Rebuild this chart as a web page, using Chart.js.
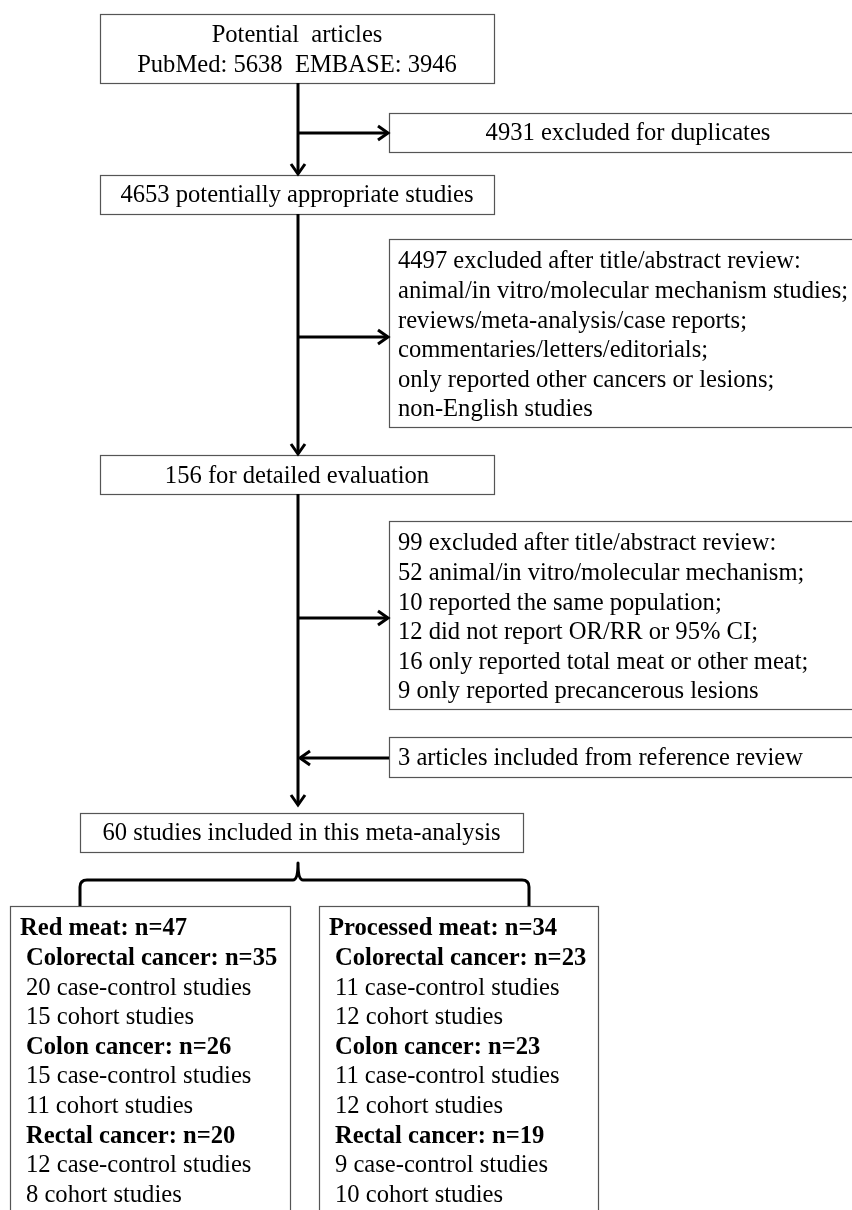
<!DOCTYPE html>
<html>
<head>
<meta charset="utf-8">
<script src="https://cdn.jsdelivr.net/npm/chart.js@4.4.1/dist/chart.umd.min.js"></script>
<style>
html,body{margin:0;padding:0;background:#fff;}
#wrap{width:852px;height:1210px;position:relative;}
</style>
</head>
<body>
<div id="wrap"><canvas id="c" width="852" height="1210"></canvas></div>
<script>
// ---- Data (texts and counts) ----
const sourceLines = ["Potential  articles", "PubMed: 5638  EMBASE: 3946"];
const duplicateLines = ["4931 excluded for duplicates"];
const appropriateLines = ["4653 potentially appropriate studies"];
const titleExclLines = [
  "4497 excluded after title/abstract review:",
  "animal/in vitro/molecular mechanism studies;",
  "reviews/meta-analysis/case reports;",
  "commentaries/letters/editorials;",
  "only reported other cancers or lesions;",
  "non-English studies"
];
const detailedLines = ["156 for detailed evaluation"];
const detailExclLines = [
  "99 excluded after title/abstract review:",
  "52 animal/in vitro/molecular mechanism;",
  "10 reported the same population;",
  "12 did not report OR/RR or 95% CI;",
  "16 only reported total meat or other meat;",
  "9 only reported precancerous lesions"
];
const referenceLines = ["3 articles included from reference review"];
const includedLines = ["60 studies included in this meta-analysis"];
const redMeatLines = [
  "Red meat: n=47",
  "Colorectal cancer: n=35",
  "20 case-control studies",
  "15 cohort studies",
  "Colon cancer: n=26",
  "15 case-control studies",
  "11 cohort studies",
  "Rectal cancer: n=20",
  "12 case-control studies",
  "8 cohort studies"
];
const processedLines = [
  "Processed meat: n=34",
  "Colorectal cancer: n=23",
  "11 case-control studies",
  "12 cohort studies",
  "Colon cancer: n=23",
  "11 case-control studies",
  "12 cohort studies",
  "Rectal cancer: n=19",
  "9 case-control studies",
  "10 cohort studies"
];
const boldRows = [0, 1, 4, 7];

// ---- Layout (page units on hidden linear scales) ----
const FONT = "'Liberation Serif', 'Times New Roman', serif";
const FS = 24.6;
const LH = 29.6;
const boxes = [
  {lines: sourceLines, x0: 100, y0: 14, x1: 494, y1: 83, align: 'center', ty: 36},
  {lines: duplicateLines, x0: 389, y0: 113, x1: 867, y1: 152, align: 'center', ty: 134},
  {lines: appropriateLines, x0: 100, y0: 175, x1: 494, y1: 214, align: 'center', ty: 196},
  {lines: titleExclLines, x0: 389, y0: 239, x1: 867, y1: 427, align: 'left', tx: 398, ty: 262},
  {lines: detailedLines, x0: 100, y0: 455, x1: 494, y1: 494, align: 'center', ty: 477},
  {lines: detailExclLines, x0: 389, y0: 521, x1: 867, y1: 709, align: 'left', tx: 398, ty: 544},
  {lines: referenceLines, x0: 389, y0: 737, x1: 867, y1: 777, align: 'left', tx: 398, ty: 759},
  {lines: includedLines, x0: 80, y0: 813, x1: 523, y1: 852, align: 'center', ty: 834},
  {lines: redMeatLines, x0: 10, y0: 906, x1: 290, y1: 1240, align: 'left', tx: 26, hx: 20, ty: 929, bold: boldRows},
  {lines: processedLines, x0: 319, y0: 906, x1: 598, y1: 1240, align: 'left', tx: 335, hx: 329, ty: 929, bold: boldRows}
];
const arrows = [
  {from: [298, 83], to: [298, 174]},
  {from: [298, 133], to: [388, 133]},
  {from: [298, 214], to: [298, 454]},
  {from: [298, 337], to: [388, 337]},
  {from: [298, 494], to: [298, 805]},
  {from: [298, 618], to: [388, 618]},
  {from: [389, 758], to: [300, 758]}
];
const brace = {x0: 80, x1: 529, xm: 298, yTop: 863, yMid: 880, yBot: 906, r: 7};

const flowPlugin = {
  id: 'flow',
  afterDatasetsDraw(chart) {
    const ctx = chart.ctx;
    const xs = chart.scales.x, ys = chart.scales.y;
    const X = v => xs.getPixelForValue(v);
    const Y = v => ys.getPixelForValue(v);
    ctx.save();
    // boxes
    boxes.forEach(b => {
      ctx.fillStyle = '#fff';
      ctx.fillRect(X(b.x0), Y(b.y0), X(b.x1) - X(b.x0), Y(b.y1) - Y(b.y0));
      ctx.strokeStyle = '#555';
      ctx.lineWidth = 1.2;
      ctx.strokeRect(Math.round(X(b.x0)) + 0.5, Math.round(Y(b.y0)) + 0.5,
        Math.round(X(b.x1) - X(b.x0)), Math.round(Y(b.y1) - Y(b.y0)));
      ctx.fillStyle = '#000';
      ctx.textBaseline = 'middle';
      b.lines.forEach((t, i) => {
        const isBold = b.bold && b.bold.includes(i);
        ctx.font = (isBold ? 'bold ' : '') + FS + 'px ' + FONT;
        const yy = Y(b.ty + i * LH);
        if (b.align === 'center') {
          ctx.textAlign = 'center';
          ctx.fillText(t, X((b.x0 + Math.min(b.x1, 867)) / 2), yy);
        } else {
          ctx.textAlign = 'left';
          const xx = (i === 0 && b.hx !== undefined) ? b.hx : b.tx;
          ctx.fillText(t, X(xx), yy);
        }
      });
    });
    // arrows
    ctx.strokeStyle = '#000';
    ctx.lineWidth = 3;
    ctx.lineCap = 'butt';
    ctx.lineJoin = 'miter';
    arrows.forEach(a => {
      const x0 = X(a.from[0]), y0 = Y(a.from[1]), x1 = X(a.to[0]), y1 = Y(a.to[1]);
      ctx.beginPath();
      ctx.moveTo(x0, y0);
      ctx.lineTo(x1, y1);
      ctx.stroke();
      const ang = Math.atan2(y1 - y0, x1 - x0);
      const L = 10, W = 7;
      ctx.beginPath();
      ctx.moveTo(x1 - L * Math.cos(ang) - W * Math.sin(ang), y1 - L * Math.sin(ang) + W * Math.cos(ang));
      ctx.lineTo(x1, y1);
      ctx.lineTo(x1 - L * Math.cos(ang) + W * Math.sin(ang), y1 - L * Math.sin(ang) - W * Math.cos(ang));
      ctx.stroke();
    });
    // brace
    const b = brace;
    ctx.lineWidth = 3;
    ctx.lineJoin = 'round';
    ctx.beginPath();
    ctx.moveTo(X(b.x0), Y(b.yBot));
    ctx.lineTo(X(b.x0), Y(b.yMid + b.r));
    ctx.quadraticCurveTo(X(b.x0), Y(b.yMid), X(b.x0 + b.r), Y(b.yMid));
    ctx.lineTo(X(b.xm - 5), Y(b.yMid));
    ctx.quadraticCurveTo(X(b.xm), Y(b.yMid), X(b.xm), Y(b.yTop));
    ctx.quadraticCurveTo(X(b.xm), Y(b.yMid), X(b.xm + 5), Y(b.yMid));
    ctx.lineTo(X(b.x1 - b.r), Y(b.yMid));
    ctx.quadraticCurveTo(X(b.x1), Y(b.yMid), X(b.x1), Y(b.yMid + b.r));
    ctx.lineTo(X(b.x1), Y(b.yBot));
    ctx.stroke();
    ctx.restore();
  }
};

new Chart(document.getElementById('c'), {
  type: 'scatter',
  data: {datasets: [{data: [], pointRadius: 0}]},
  options: {
    responsive: false,
    animation: false,
    layout: {padding: 0},
    plugins: {legend: {display: false}, tooltip: {enabled: false}},
    scales: {
      x: {type: 'linear', min: 0, max: 852, display: false},
      y: {type: 'linear', min: 0, max: 1210, reverse: true, display: false}
    }
  },
  plugins: [flowPlugin]
});
</script>
</body>
</html>
